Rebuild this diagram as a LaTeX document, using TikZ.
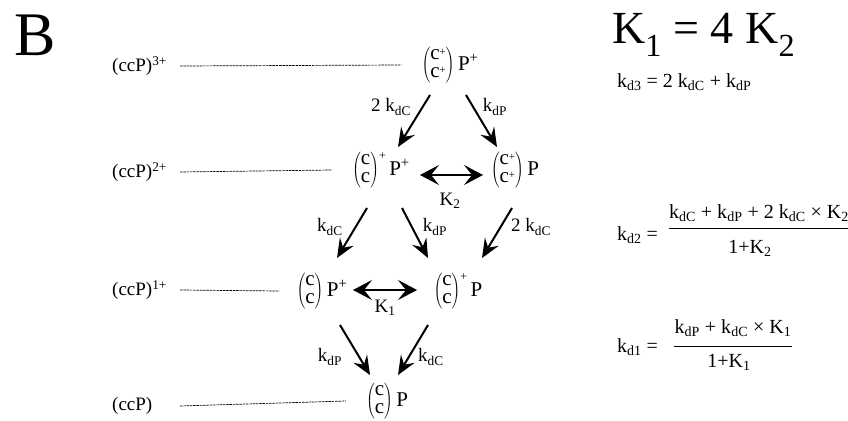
\documentclass[tikz,border=0pt]{standalone}
\usepackage{fontspec}
\setmainfont{Liberation Serif}
\usetikzlibrary{arrows.meta}
\newcommand\sbs[1]{\textsubscript{#1}}
\newcommand\sps[1]{\textsuperscript{#1}}
\newcommand\stk[2]{$\left(\vcenter{\hbox{\fontsize{21}{18}\selectfont\begin{tabular}{@{}c@{}}#1\\#2\end{tabular}}}\right)$}
\newcommand\cplus{c\raisebox{4pt}{\fontsize{11}{11}\selectfont+}}
\newcommand\topplus{\raisebox{16pt}{\fontsize{12}{12}\selectfont+}}
\begin{document}
\begin{tikzpicture}[x=1pt,y=-1pt,
  sp/.style={inner sep=0pt, font=\fontsize{21}{23}\selectfont},
  lvl/.style={anchor=west, inner sep=0pt, font=\fontsize{19}{21}\selectfont},
  rate/.style={inner sep=0pt, font=\fontsize{19}{21}\selectfont},
  eqn/.style={inner sep=0pt, font=\fontsize{20}{22}\selectfont},
  dl/.style={line width=0.7pt, dash pattern=on 2.5pt off 0.8pt},
  rx/.style={line width=2pt, -{Stealth[length=19pt,width=16pt,inset=7pt]}},
  eq/.style={line width=1.2pt, {Stealth[length=19pt,width=20pt,inset=8pt]}-{Stealth[length=19pt,width=20pt,inset=8pt]}}]
\useasboundingbox (0,0) rectangle (848,420);
\node[inner sep=0pt, font=\fontsize{62}{64}\selectfont] (B) at (35,35) {B};
% level labels
\node[lvl] (L3) at (112,66) {(ccP)\sps{3+}};
\node[lvl] (L2) at (112,172) {(ccP)\sps{2+}};
\node[lvl] (L1) at (112,290) {(ccP)\sps{1+}};
\node[lvl] (L0) at (112,406) {(ccP)};
% species
\node[sp] (n3) at (450,65) {\stk{\cplus}{\cplus}\,P\sps{+}};
\node[sp] (n2a) at (381,170) {\stk{c}{c}\topplus\,P\sps{+}};
\node[sp] (n2b) at (515,170) {\stk{\cplus}{\cplus}\,P};
\node[sp] (n1a) at (322,291) {\stk{c}{c}\,P\sps{+}};
\node[sp] (n1b) at (458,291) {\stk{c}{c}\topplus\,P};
\node[sp] (n0) at (387,401) {\stk{c}{c}\,P};
% dashed lines
\draw[dl] ([xshift=68pt]L3.west) -- ([xshift=-20pt]n3.west);
\draw[dl] ([xshift=68pt]L2.west) -- ([xshift=-20pt]n2a.west);
\draw[dl] ([xshift=68pt]L1.west) -- ([xshift=-17pt]n1a.west);
\draw[dl] ([xshift=68pt]L0.west) -- ([xshift=-20pt]n0.west);
% reactions
\draw[rx] ([shift={(-20,30)}]n3.center) -- ([shift={(17,-23)}]n2a.center);
\draw[rx] ([shift={(16,30)}]n3.center) -- ([shift={(-18,-23)}]n2b.center);
\draw[rx] ([shift={(-14,38)}]n2a.center) -- ([shift={(15,-33)}]n1a.center);
\draw[rx] ([shift={(21,38)}]n2a.center) -- ([shift={(-30,-33)}]n1b.center);
\draw[rx] ([shift={(-3,38)}]n2b.center) -- ([shift={(24,-33)}]n1b.center);
\draw[rx] ([shift={(18,34)}]n1a.center) -- ([shift={(-17,-26)}]n0.center);
\draw[rx] ([shift={(-30,34)}]n1b.center) -- ([shift={(11,-26)}]n0.center);
\draw[eq] ([shift={(39,5)}]n2a.center) -- ([shift={(-32,5)}]n2b.center);
\draw[eq] ([shift={(31,-1)}]n1a.center) -- ([shift={(-41,-1)}]n1b.center);
% labels
\node[rate] (r1) at (391,107) {2 k\sbs{dC}};
\node[rate] (r2) at (495,107) {k\sbs{dP}};
\node[rate] (r3) at (330,227) {k\sbs{dC}};
\node[rate] (r4) at (435,227) {k\sbs{dP}};
\node[rate] (r5) at (531,227) {2 k\sbs{dC}};
\node[rate] (r6) at (330,357) {k\sbs{dP}};
\node[rate] (r7) at (431,357) {k\sbs{dC}};
\node[rate] (K2) at (450,201) {K\sbs{2}};
\node[rate] (K1) at (385,308) {K\sbs{1}};
% right side
\node[inner sep=0pt, anchor=west, font=\fontsize{46}{48}\selectfont] (KK) at (612,35) {K\sbs{1} = 4 K\sbs{2}};
\node[eqn, anchor=west] (kd3) at (617,82) {k\sbs{d3} = 2 k\sbs{dC} + k\sbs{dP}};
\node[eqn, anchor=west] (kd2) at (617,235) {k\sbs{d2} =};
\node[eqn] (num2) at (759,213) {k\sbs{dC} + k\sbs{dP} + 2 k\sbs{dC} × K\sbs{2}};
\node[eqn] (den2) at (750,248) {1+K\sbs{2}};
\draw[line width=0.6pt] (num2.west |- 0,228) -- (num2.east |- 0,228);
\node[eqn, anchor=west] (kd1) at (617,347) {k\sbs{d1} =};
\node[eqn] (num1) at (733,328) {k\sbs{dP} + k\sbs{dC} × K\sbs{1}};
\node[eqn] (den1) at (729,362) {1+K\sbs{1}};
\draw[line width=0.6pt] (num1.west |- 0,346) -- (num1.east |- 0,346);
\end{tikzpicture}
\end{document}
